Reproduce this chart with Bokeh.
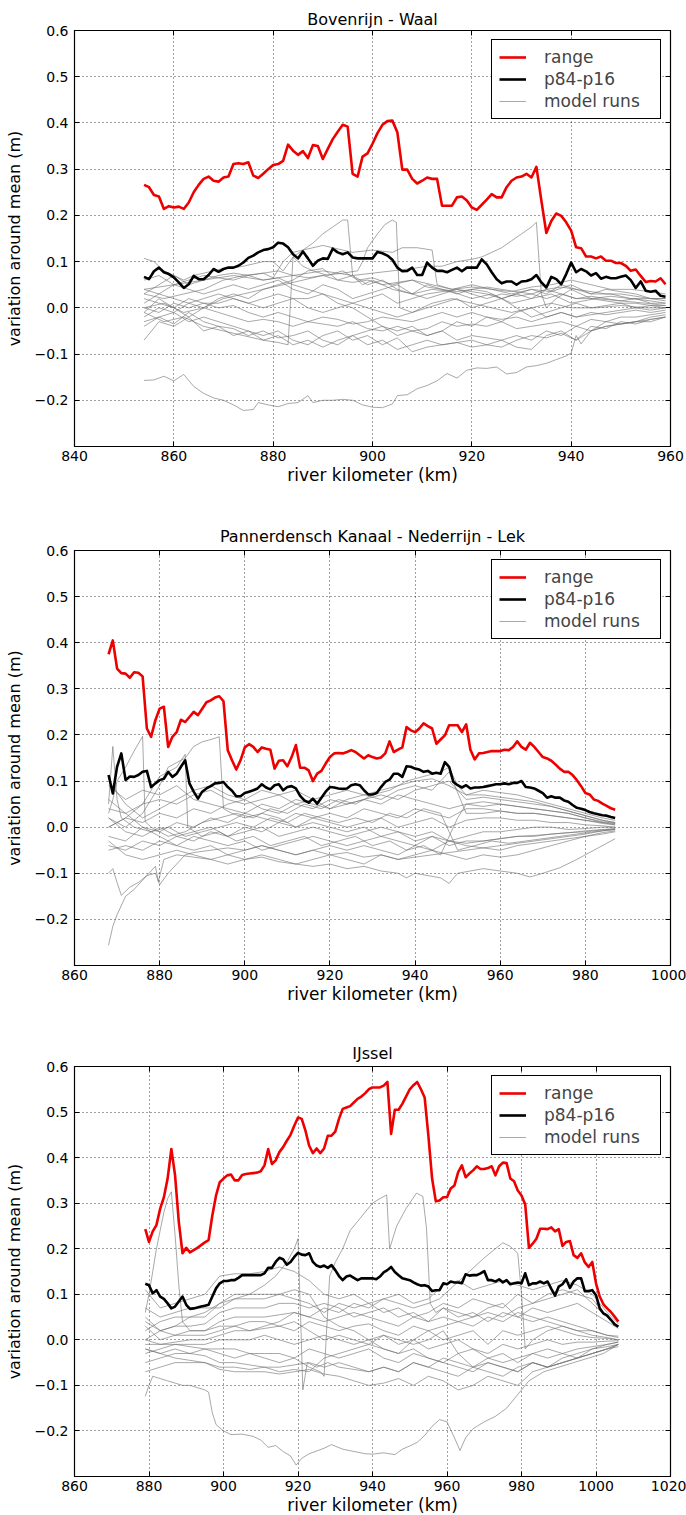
from bokeh.plotting import figure
from bokeh.layouts import column
from bokeh.models import (Range1d, FixedTicker, CustomJSTickFormatter, LinearAxis,
                          Legend, LegendItem)
from bokeh.embed import file_html
from bokeh.resources import INLINE

FONT = "DejaVu Sans"
Y_TICKS = [-0.2, -0.1, 0.0, 0.1, 0.2, 0.3, 0.4, 0.5, 0.6]

# ------------------------------------------------------------------ Bovenrijn - Waal
wa_title = "Bovenrijn - Waal"
wa_x_ticks = [840, 860, 880, 900, 920, 940, 960]
wa_km = list(range(854, 960))
wa_range = [0.266, 0.261, 0.244, 0.241, 0.214, 0.220, 0.217, 0.219, 0.214, 0.228,
            0.250, 0.266, 0.279, 0.284, 0.275, 0.273, 0.282, 0.284, 0.311, 0.313,
            0.311, 0.315, 0.286, 0.281, 0.290, 0.300, 0.309, 0.311, 0.318, 0.353,
            0.340, 0.331, 0.339, 0.324, 0.352, 0.350, 0.322, 0.344, 0.365, 0.381,
            0.396, 0.392, 0.290, 0.284, 0.327, 0.334, 0.355, 0.378, 0.396, 0.404,
            0.405, 0.380, 0.299, 0.299, 0.279, 0.269, 0.275, 0.282, 0.279, 0.279,
            0.221, 0.221, 0.221, 0.239, 0.241, 0.232, 0.217, 0.212, 0.223, 0.234,
            0.246, 0.239, 0.239, 0.261, 0.275, 0.282, 0.284, 0.290, 0.282, 0.305,
            0.232, 0.162, 0.188, 0.204, 0.199, 0.185, 0.167, 0.131, 0.129, 0.111,
            0.111, 0.107, 0.111, 0.102, 0.102, 0.097, 0.097, 0.091, 0.080, 0.083,
            0.069, 0.056, 0.058, 0.057, 0.064, 0.051]
wa_p84_p16 = [0.067, 0.062, 0.079, 0.087, 0.077, 0.073, 0.066, 0.055, 0.043, 0.051,
              0.069, 0.062, 0.062, 0.071, 0.084, 0.078, 0.084, 0.087, 0.087, 0.091,
              0.098, 0.108, 0.113, 0.120, 0.125, 0.127, 0.131, 0.141, 0.139, 0.131,
              0.116, 0.107, 0.122, 0.107, 0.091, 0.102, 0.107, 0.106, 0.128, 0.120,
              0.116, 0.120, 0.109, 0.107, 0.107, 0.107, 0.107, 0.121, 0.118, 0.113,
              0.104, 0.087, 0.079, 0.080, 0.087, 0.071, 0.071, 0.098, 0.087, 0.080,
              0.080, 0.077, 0.082, 0.087, 0.079, 0.087, 0.087, 0.087, 0.105, 0.094,
              0.077, 0.062, 0.053, 0.057, 0.057, 0.050, 0.057, 0.058, 0.062, 0.071,
              0.055, 0.044, 0.067, 0.062, 0.051, 0.073, 0.098, 0.077, 0.084, 0.079,
              0.070, 0.075, 0.063, 0.067, 0.064, 0.064, 0.067, 0.070, 0.060, 0.043,
              0.057, 0.037, 0.035, 0.037, 0.026, 0.024]
wa_grid = list(range(854, 960, 3))
wa_runs = [
    [-0.07, -0.03, -0.04, -0.02, -0.05, -0.04, -0.06, -0.05, -0.07, -0.06, -0.08, -0.07, -0.085, -0.07, -0.06, -0.08, -0.07, -0.09, -0.08, -0.07, -0.08, -0.075, -0.085, -0.08, -0.07, -0.085, -0.09, -0.06, -0.05, -0.07, -0.04, -0.045, -0.03, -0.035, -0.025, -0.02],
    [-0.03, -0.02, -0.035, -0.01, -0.03, -0.04, -0.045, -0.06, -0.05, -0.065, -0.06, -0.05, -0.07, -0.08, -0.06, -0.05, -0.04, -0.06, -0.05, -0.06, -0.05, -0.07, -0.06, -0.065, -0.07, -0.06, -0.07, -0.05, -0.06, -0.04, -0.05, -0.03, -0.035, -0.03, -0.02, -0.015],
    [-0.02, 0.0, -0.01, 0.01, 0.0, -0.01, -0.02, -0.03, -0.025, -0.03, -0.04, -0.03, -0.035, -0.04, -0.03, -0.045, -0.05, -0.04, -0.05, -0.045, -0.03, -0.04, -0.035, -0.04, -0.03, -0.045, -0.04, -0.035, -0.03, -0.04, -0.025, -0.03, -0.02, -0.02, -0.015, -0.01],
    [0.02, 0.01, 0.0, 0.02, 0.01, 0.0, 0.005, -0.01, -0.02, -0.01, -0.02, -0.03, -0.02, -0.025, -0.035, -0.03, -0.02, -0.025, -0.03, -0.02, -0.01, -0.02, -0.01, -0.02, -0.025, -0.02, -0.03, -0.02, -0.01, -0.02, -0.015, -0.01, -0.005, 0.0, -0.005, 0.0],
    [0.04, 0.03, 0.02, 0.01, 0.02, 0.03, 0.02, 0.01, 0.0, 0.01, 0.02, 0.0, -0.01, 0.0, 0.01, 0.0, -0.01, -0.02, -0.01, 0.0, 0.01, 0.02, 0.0, 0.01, 0.02, 0.0, -0.02, -0.01, 0.0, 0.01, 0.0, 0.005, 0.01, 0.0, 0.005, 0.005],
    [0.01, 0.03, 0.05, 0.04, 0.03, 0.04, 0.05, 0.04, 0.05, 0.06, 0.04, 0.03, 0.05, 0.04, 0.02, 0.03, 0.04, 0.05, 0.03, 0.02, 0.03, 0.04, 0.03, 0.02, 0.03, 0.025, 0.03, 0.02, 0.03, 0.02, 0.025, 0.02, 0.015, 0.02, 0.01, 0.01],
    [0.06, 0.07, 0.05, 0.06, 0.07, 0.065, 0.06, 0.07, 0.075, 0.08, 0.07, 0.065, 0.07, 0.06, 0.055, 0.06, 0.05, 0.055, 0.06, 0.045, 0.04, 0.035, 0.04, 0.045, 0.04, 0.035, 0.03, 0.04, 0.045, 0.04, 0.035, 0.03, 0.03, 0.025, 0.02, 0.02],
    [-0.01, 0.02, 0.0, -0.02, 0.0, 0.02, 0.03, 0.02, 0.04, 0.05, 0.06, 0.08, 0.085, 0.06, 0.07, 0.05, 0.06, 0.04, 0.03, 0.05, 0.04, 0.03, 0.04, 0.035, 0.02, 0.03, 0.04, 0.03, 0.05, 0.04, 0.03, 0.04, 0.035, 0.03, 0.02, 0.02],
    [0.0, -0.01, 0.01, 0.0, 0.01, 0.01, 0.02, 0.01, 0.02, 0.03, 0.02, 0.02, 0.03, 0.01, 0.0, -0.02, -0.04, -0.05, -0.04, -0.06, -0.05, -0.03, -0.04, -0.02, -0.03, -0.01, 0.0, -0.02, -0.01, -0.02, -0.01, -0.015, -0.01, -0.005, -0.01, -0.005],
    [-0.04, -0.02, -0.01, -0.03, -0.02, -0.03, -0.04, -0.05, -0.06, -0.05, -0.07, -0.08, -0.06, -0.05, -0.07, -0.06, -0.08, -0.065, -0.095, -0.085, -0.08, -0.075, -0.07, -0.08, -0.085, -0.07, -0.06, -0.065, -0.055, -0.07, -0.05, -0.04, -0.035, -0.03, -0.03, -0.02],
    [0.03, 0.05, 0.07, 0.05, 0.06, 0.07, 0.075, 0.07, 0.06, 0.065, 0.05, 0.04, 0.03, 0.02, 0.01, 0.02, 0.03, 0.01, 0.02, 0.03, 0.035, 0.04, 0.035, 0.03, 0.02, 0.03, 0.02, 0.04, 0.03, 0.02, 0.02, 0.015, 0.01, 0.01, 0.005, 0.0],
]
wa_run_low = [(854, -0.157), (856, -0.156), (858, -0.148), (860, -0.158), (862, -0.144), (864, -0.170),
              (866, -0.185), (868, -0.195), (870, -0.200), (872, -0.210), (874, -0.222), (876, -0.220),
              (877, -0.205), (879, -0.210), (881, -0.214), (883, -0.207), (885, -0.205), (887, -0.190),
              (888, -0.205), (890, -0.200), (892, -0.200), (894, -0.198), (896, -0.200), (898, -0.210),
              (900, -0.215), (902, -0.216), (904, -0.208), (905, -0.190), (907, -0.188), (909, -0.175),
              (911, -0.168), (913, -0.158), (915, -0.142), (917, -0.152), (919, -0.135), (921, -0.130),
              (923, -0.131), (925, -0.128), (927, -0.143), (929, -0.140), (931, -0.128), (933, -0.125),
              (935, -0.120), (937, -0.112), (939, -0.104), (940, -0.098), (941, -0.060), (942, -0.078),
              (944, -0.050), (947, -0.040), (950, -0.035), (953, -0.030), (956, -0.025), (959, -0.020)]
wa_run_peak895 = [(854, 0.03), (858, 0.02), (862, 0.03), (866, 0.04), (870, 0.06), (874, 0.07), (878, 0.075),
                  (880, 0.065), (882, 0.10), (884, 0.12), (886, 0.125), (888, 0.14), (890, 0.16), (892, 0.175),
                  (894, 0.19), (895, 0.19), (896, 0.07), (898, 0.05), (900, 0.06), (904, 0.04), (908, 0.03),
                  (912, 0.04), (916, 0.035), (920, 0.02), (924, 0.03), (928, 0.01), (932, 0.02), (936, 0.03),
                  (940, 0.01), (945, 0.02), (950, 0.015), (955, 0.01), (959, 0.005)]
wa_run_peak904 = [(854, 0.0), (858, 0.01), (862, -0.01), (866, 0.0), (870, 0.02), (874, 0.03), (878, 0.04),
                  (882, 0.05), (886, 0.06), (890, 0.07), (894, 0.075), (897, 0.08), (898, 0.10), (899, 0.13),
                  (901, 0.16), (902.5, 0.18), (904, 0.19), (904.8, 0.185), (905.5, 0.0), (908, -0.01),
                  (912, 0.01), (916, 0.02), (920, 0.01), (924, 0.0), (928, -0.01), (932, 0.0), (936, 0.01),
                  (940, 0.0), (945, 0.0), (950, 0.005), (955, 0.0), (959, 0.0)]
wa_run_peak933 = [(854, 0.04), (860, 0.05), (866, 0.06), (872, 0.07), (878, 0.06), (884, 0.07), (890, 0.08),
                  (896, 0.07), (900, 0.075), (904, 0.08), (908, 0.085), (911, 0.09), (914, 0.09), (917, 0.10),
                  (920, 0.105), (922, 0.11), (924, 0.12), (926, 0.13), (928, 0.145), (930, 0.16), (932, 0.175),
                  (933, 0.185), (934, 0.03), (935, 0.0), (937, 0.02), (940, 0.04), (944, 0.02), (948, 0.025),
                  (952, 0.02), (956, 0.015), (959, 0.01)]
wa_run_high = [(854, 0.107), (856, 0.10), (858, 0.08), (860, 0.07), (862, 0.06), (864, 0.07), (866, 0.075),
               (868, 0.08), (870, 0.085), (874, 0.09), (878, 0.10), (880, 0.10), (882, 0.08), (884, 0.11),
               (886, 0.125), (888, 0.13), (890, 0.135), (892, 0.13), (896, 0.12), (900, 0.125), (904, 0.12),
               (906, 0.13), (909, 0.13), (912, 0.125), (913, 0.05), (916, 0.04), (920, 0.045), (924, 0.04),
               (928, 0.035), (932, 0.045), (936, 0.05), (940, 0.06), (944, 0.05), (948, 0.04), (952, 0.04),
               (956, 0.035), (959, 0.03)]
wa_run_jump884 = [(854, -0.01), (858, -0.03), (862, -0.02), (866, -0.04), (870, -0.05), (874, -0.06),
                  (878, -0.07), (881, -0.075), (883, -0.08), (884, 0.11), (886, 0.09), (888, 0.08), (891, 0.07),
                  (894, 0.08), (897, 0.06), (900, 0.065), (904, 0.05), (908, 0.06), (912, 0.05), (916, 0.04),
                  (920, 0.05), (924, 0.04), (928, 0.03), (932, 0.04), (936, 0.035), (940, 0.05), (944, 0.03),
                  (948, 0.03), (952, 0.02), (956, 0.02), (959, 0.015)]

# ------------------------------------------------------------------ Pannerdensch Kanaal - Nederrijn - Lek
nl_title = "Pannerdensch Kanaal - Nederrijn - Lek"
nl_x_ticks = [860, 880, 900, 920, 940, 960, 980, 1000]
nl_km = list(range(868, 988))
nl_range = [0.375, 0.405, 0.344, 0.334, 0.333, 0.324, 0.336, 0.335, 0.327, 0.214,
            0.196, 0.232, 0.257, 0.261, 0.174, 0.196, 0.206, 0.233, 0.228, 0.239,
            0.250, 0.243, 0.257, 0.271, 0.275, 0.281, 0.284, 0.273, 0.167, 0.145,
            0.125, 0.145, 0.173, 0.180, 0.174, 0.163, 0.173, 0.170, 0.168, 0.127,
            0.144, 0.145, 0.132, 0.152, 0.178, 0.129, 0.129, 0.123, 0.100, 0.116,
            0.122, 0.138, 0.152, 0.160, 0.161, 0.160, 0.163, 0.167, 0.163, 0.156,
            0.149, 0.156, 0.152, 0.149, 0.151, 0.160, 0.186, 0.163, 0.168, 0.173,
            0.217, 0.210, 0.206, 0.214, 0.225, 0.219, 0.214, 0.181, 0.190, 0.199,
            0.221, 0.221, 0.221, 0.206, 0.223, 0.168, 0.147, 0.160, 0.161, 0.163,
            0.165, 0.165, 0.165, 0.168, 0.167, 0.174, 0.186, 0.174, 0.168, 0.183,
            0.174, 0.163, 0.152, 0.149, 0.144, 0.136, 0.127, 0.120, 0.120, 0.113,
            0.102, 0.089, 0.074, 0.071, 0.060, 0.057, 0.051, 0.046, 0.041, 0.038]
nl_p84_p16 = [0.113, 0.073, 0.131, 0.160, 0.102, 0.110, 0.109, 0.113, 0.120, 0.122,
              0.087, 0.095, 0.102, 0.105, 0.120, 0.109, 0.116, 0.131, 0.145, 0.095,
              0.077, 0.062, 0.077, 0.084, 0.089, 0.095, 0.096, 0.098, 0.087, 0.079,
              0.067, 0.067, 0.074, 0.077, 0.080, 0.084, 0.093, 0.086, 0.082, 0.091,
              0.093, 0.080, 0.087, 0.089, 0.084, 0.068, 0.058, 0.053, 0.062, 0.051,
              0.064, 0.077, 0.087, 0.086, 0.084, 0.083, 0.084, 0.091, 0.093, 0.091,
              0.080, 0.071, 0.071, 0.074, 0.087, 0.098, 0.103, 0.116, 0.116, 0.109,
              0.132, 0.131, 0.127, 0.125, 0.120, 0.122, 0.116, 0.118, 0.116, 0.141,
              0.131, 0.098, 0.091, 0.086, 0.091, 0.084, 0.086, 0.086, 0.087, 0.089,
              0.091, 0.093, 0.093, 0.095, 0.093, 0.096, 0.096, 0.100, 0.087, 0.086,
              0.084, 0.079, 0.074, 0.064, 0.067, 0.064, 0.064, 0.058, 0.055, 0.048,
              0.042, 0.040, 0.037, 0.033, 0.030, 0.028, 0.026, 0.025, 0.022, 0.020]
nl_grid = list(range(868, 988, 4)) + [987]
nl_runs = [
    [0.09, 0.06, 0.08, 0.07, 0.09, 0.06, 0.05, 0.04, 0.03, 0.05, 0.04, 0.06, 0.05, 0.04, 0.06, 0.07, 0.08, 0.09, 0.1, 0.105, 0.09, 0.07, 0.08, 0.075, 0.07, 0.06, 0.05, 0.04, 0.03, 0.02, 0.015],
    [0.04, 0.03, 0.05, 0.06, 0.05, 0.07, 0.08, 0.06, 0.05, 0.06, 0.07, 0.05, 0.04, 0.06, 0.05, 0.06, 0.07, 0.06, 0.08, 0.09, 0.1, 0.06, 0.065, 0.06, 0.055, 0.05, 0.045, 0.035, 0.025, 0.015, 0.01],
    [0.0, 0.02, 0.01, 0.03, 0.02, 0.04, 0.03, 0.05, 0.06, 0.04, 0.03, 0.05, 0.06, 0.04, 0.05, 0.06, 0.05, 0.07, 0.06, 0.05, 0.04, 0.05, 0.055, 0.05, 0.045, 0.04, 0.035, 0.03, 0.02, 0.01, 0.008],
    [-0.02, -0.03, 0.0, -0.01, 0.01, 0.0, 0.02, 0.01, 0.03, 0.02, 0.01, 0.03, 0.02, 0.03, 0.02, 0.04, 0.03, 0.02, 0.04, 0.03, 0.02, 0.04, 0.04, 0.035, 0.03, 0.03, 0.025, 0.02, 0.015, 0.008, 0.005],
    [-0.04, -0.05, -0.03, -0.04, -0.02, -0.03, -0.01, -0.02, 0.0, -0.01, 0.01, 0.0, 0.02, 0.01, 0.0, 0.01, 0.02, 0.0, 0.01, 0.02, 0.0, 0.015, 0.02, 0.02, 0.015, 0.015, 0.01, 0.01, 0.005, 0.003, 0.0],
    [0.02, -0.01, -0.02, 0.0, -0.02, -0.01, 0.0, -0.02, -0.01, 0.0, -0.02, -0.01, 0.0, -0.01, -0.02, -0.01, 0.0, -0.01, -0.02, -0.01, -0.03, -0.02, -0.01, -0.01, -0.005, 0.0, 0.0, -0.005, -0.003, 0.0, 0.0],
    [-0.05, -0.04, -0.05, -0.03, -0.04, -0.02, -0.03, -0.04, -0.03, -0.05, -0.04, -0.03, -0.02, -0.03, -0.04, -0.03, -0.02, -0.03, -0.04, -0.02, -0.03, -0.035, -0.03, -0.025, -0.02, -0.018, -0.015, -0.012, -0.008, -0.005, -0.003],
    [0.06, 0.03, 0.0, -0.02, -0.04, -0.05, -0.04, -0.06, -0.05, -0.04, -0.05, -0.06, -0.05, -0.04, -0.05, -0.04, -0.05, -0.06, -0.04, -0.05, -0.03, -0.04, -0.045, -0.04, -0.035, -0.03, -0.025, -0.02, -0.015, -0.008, -0.005],
    [0.1, 0.05, 0.02, 0.04, 0.06, 0.08, 0.09, 0.07, 0.06, 0.08, 0.07, 0.08, 0.06, 0.07, 0.08, 0.07, 0.06, 0.08, 0.09, 0.08, 0.12, 0.03, 0.03, 0.035, 0.03, 0.03, 0.025, 0.02, 0.015, 0.01, 0.005],
    [-0.03, -0.06, -0.07, -0.06, -0.05, -0.06, -0.07, -0.08, -0.07, -0.06, -0.07, -0.08, -0.07, -0.06, -0.07, -0.08, -0.06, -0.07, -0.06, -0.05, -0.06, -0.07, -0.06, -0.065, -0.06, -0.05, -0.04, -0.03, -0.02, -0.012, -0.008],
]
nl_run_low = [(868, -0.256), (869, -0.215), (870, -0.19), (872, -0.15), (874, -0.135), (876, -0.115),
              (878, -0.095), (879, -0.085), (879.7, -0.118), (881, -0.07), (884, -0.06), (888, -0.065),
              (892, -0.07), (896, -0.06), (900, -0.07), (904, -0.065), (908, -0.075), (912, -0.08),
              (916, -0.085), (920, -0.08), (924, -0.09), (928, -0.085), (932, -0.095), (936, -0.10),
              (938, -0.11), (940, -0.10), (943, -0.105), (946, -0.11), (948, -0.122), (950, -0.10),
              (953, -0.095), (956, -0.09), (960, -0.095), (964, -0.10), (967, -0.108), (970, -0.10),
              (974, -0.088), (978, -0.07), (982, -0.05), (985, -0.035), (987, -0.025)]
nl_run_dip871 = [(868, -0.10), (869, -0.09), (870, -0.12), (871, -0.148), (873, -0.13), (875, -0.12),
                 (877, -0.105), (879, -0.10), (880, -0.125), (882, -0.10), (884, -0.08), (886, -0.06),
                 (888, -0.055), (892, -0.05), (896, -0.045), (900, -0.05), (904, -0.04), (908, -0.05),
                 (912, -0.06), (916, -0.05), (920, -0.06), (924, -0.055), (928, -0.065), (932, -0.06),
                 (936, -0.07), (940, -0.065), (944, -0.06), (948, -0.055), (952, -0.05), (956, -0.045),
                 (960, -0.05), (964, -0.04), (968, -0.035), (972, -0.03), (976, -0.025), (980, -0.02),
                 (984, -0.015), (987, -0.01)]
nl_run_peak869 = [(868, 0.05), (869, 0.175), (870, 0.06), (871, 0.02), (874, 0.0), (878, -0.01), (882, 0.0),
                  (886, -0.02), (890, -0.01), (894, 0.0), (898, 0.01), (902, 0.0), (906, 0.02), (910, 0.01),
                  (914, 0.03), (918, 0.02), (922, 0.01), (926, 0.02), (930, 0.01), (934, 0.03), (938, 0.02),
                  (942, 0.04), (946, 0.03), (950, -0.05), (954, -0.04), (958, -0.03), (962, -0.035),
                  (966, -0.03), (970, -0.025), (974, -0.02), (978, -0.015), (982, -0.01), (987, -0.005)]
nl_run_peak876 = [(868, 0.03), (869, 0.06), (870, 0.10), (872, 0.13), (874, 0.165), (876, 0.197),
                  (876.6, 0.012), (878, 0.0), (882, -0.02), (886, -0.01), (890, 0.01), (894, 0.02), (898, 0.03),
                  (902, 0.02), (906, 0.04), (910, 0.03), (914, 0.05), (918, 0.04), (922, 0.06), (926, 0.05),
                  (930, 0.07), (934, 0.08), (938, 0.10), (942, 0.11), (946, 0.12), (948, 0.13), (950, 0.09),
                  (952, 0.07), (956, 0.07), (960, 0.065), (964, 0.06), (968, 0.055), (972, 0.045),
                  (976, 0.035), (980, 0.025), (984, 0.015), (987, 0.01)]
nl_run_peak894 = [(868, 0.02), (872, 0.0), (876, 0.03), (880, 0.09), (882, 0.13), (884, 0.14), (886, 0.15),
                  (888, 0.175), (890, 0.185), (892, 0.19), (894, 0.196), (895, 0.04), (897, 0.03), (900, 0.02),
                  (904, 0.03), (908, 0.02), (912, 0.0), (916, 0.01), (920, 0.0), (924, -0.01), (928, 0.0),
                  (932, -0.02), (936, -0.01), (940, -0.03), (944, -0.02), (948, -0.04), (952, -0.03),
                  (956, -0.03), (960, -0.025), (964, -0.02), (968, -0.02), (972, -0.015), (976, -0.012),
                  (980, -0.01), (984, -0.006), (987, -0.004)]
nl_run_peak886 = [(868, 0.0), (872, 0.02), (876, 0.05), (878, 0.08), (880, 0.11), (882, 0.12), (884, 0.13),
                  (886, 0.158), (886.6, 0.0), (890, -0.02), (894, -0.01), (898, -0.03), (902, -0.02),
                  (906, -0.04), (910, -0.03), (914, -0.02), (918, -0.04), (922, -0.03), (926, -0.02),
                  (930, -0.04), (934, -0.03), (938, -0.05), (942, -0.04), (946, -0.06), (950, 0.02),
                  (952, 0.05), (956, 0.045), (960, 0.05), (964, 0.045), (968, 0.04), (972, 0.035), (976, 0.03),
                  (980, 0.02), (984, 0.012), (987, 0.008)]

# ------------------------------------------------------------------ IJssel
ij_title = "IJssel"
ij_x_ticks = [860, 880, 900, 920, 940, 960, 980, 1000, 1020]
ij_km = list(range(879, 1007))
ij_range = [0.243, 0.215, 0.238, 0.252, 0.288, 0.313, 0.354, 0.419, 0.361, 0.259,
            0.190, 0.202, 0.192, 0.197, 0.202, 0.208, 0.214, 0.219, 0.273, 0.317,
            0.346, 0.354, 0.361, 0.363, 0.350, 0.350, 0.362, 0.364, 0.365, 0.366,
            0.367, 0.370, 0.383, 0.419, 0.386, 0.394, 0.412, 0.423, 0.437, 0.450,
            0.470, 0.488, 0.485, 0.459, 0.426, 0.410, 0.420, 0.410, 0.420, 0.448,
            0.448, 0.457, 0.485, 0.507, 0.510, 0.513, 0.521, 0.529, 0.534, 0.541,
            0.550, 0.554, 0.554, 0.554, 0.558, 0.566, 0.452, 0.505, 0.505, 0.518,
            0.534, 0.550, 0.559, 0.566, 0.550, 0.532, 0.448, 0.354, 0.304, 0.306,
            0.313, 0.313, 0.332, 0.339, 0.368, 0.383, 0.357, 0.365, 0.372, 0.381,
            0.375, 0.375, 0.377, 0.381, 0.361, 0.381, 0.389, 0.388, 0.354, 0.348,
            0.328, 0.317, 0.297, 0.202, 0.211, 0.222, 0.244, 0.244, 0.243, 0.247,
            0.238, 0.243, 0.206, 0.215, 0.217, 0.186, 0.180, 0.190, 0.170, 0.160,
            0.171, 0.124, 0.095, 0.078, 0.069, 0.061, 0.051, 0.040]
ij_p84_p16 = [0.123, 0.120, 0.102, 0.109, 0.095, 0.090, 0.080, 0.069, 0.073, 0.084,
              0.095, 0.077, 0.068, 0.069, 0.071, 0.073, 0.075, 0.077, 0.095, 0.113,
              0.124, 0.129, 0.129, 0.131, 0.131, 0.136, 0.142, 0.142, 0.142, 0.142,
              0.142, 0.142, 0.146, 0.158, 0.158, 0.171, 0.180, 0.177, 0.165, 0.171,
              0.182, 0.191, 0.187, 0.186, 0.190, 0.171, 0.163, 0.160, 0.163, 0.158,
              0.164, 0.153, 0.140, 0.131, 0.139, 0.141, 0.136, 0.131, 0.135, 0.135,
              0.135, 0.135, 0.133, 0.139, 0.148, 0.153, 0.160, 0.149, 0.142, 0.135,
              0.133, 0.131, 0.126, 0.122, 0.119, 0.120, 0.117, 0.107, 0.109, 0.109,
              0.124, 0.122, 0.128, 0.126, 0.126, 0.124, 0.144, 0.141, 0.142, 0.142,
              0.146, 0.151, 0.131, 0.131, 0.128, 0.133, 0.126, 0.131, 0.122, 0.124,
              0.126, 0.124, 0.146, 0.120, 0.124, 0.124, 0.128, 0.124, 0.128, 0.112,
              0.097, 0.117, 0.122, 0.133, 0.114, 0.128, 0.135, 0.135, 0.107, 0.107,
              0.109, 0.098, 0.069, 0.058, 0.053, 0.044, 0.034, 0.029]
ij_grid = list(range(879, 1007, 4)) + [1006]
ij_runs = [
    [0.11, 0.07, 0.08, 0.09, 0.1, 0.14, 0.145, 0.145, 0.15, 0.16, 0.15, 0.13, 0.1, 0.09, 0.1, 0.08, 0.09, 0.1, 0.08, 0.09, 0.12, 0.13, 0.11, 0.12, 0.13, 0.12, 0.11, 0.12, 0.13, 0.12, 0.1, 0.06, 0.035],
    [0.07, 0.05, 0.06, 0.07, 0.07, 0.07, 0.09, 0.09, 0.09, 0.1, 0.09, 0.08, 0.06, 0.08, 0.07, 0.08, 0.06, 0.07, 0.05, 0.06, 0.08, 0.07, 0.09, 0.08, 0.07, 0.1, 0.08, 0.09, 0.1, 0.11, 0.08, 0.05, 0.03],
    [0.05, 0.02, 0.03, 0.03, 0.035, 0.06, 0.07, 0.07, 0.07, 0.08, 0.08, 0.07, 0.08, 0.07, 0.05, 0.06, 0.07, 0.05, 0.06, 0.04, 0.07, 0.06, 0.05, 0.07, 0.08, 0.05, 0.07, 0.06, 0.07, 0.08, 0.06, 0.04, 0.025],
    [0.03, 0.0, 0.01, 0.02, 0.02, 0.04, 0.05, 0.05, 0.05, 0.055, 0.06, 0.05, 0.04, 0.05, 0.06, 0.05, 0.04, 0.03, 0.05, 0.04, 0.05, 0.04, 0.03, 0.05, 0.04, 0.06, 0.05, 0.04, 0.03, 0.02, 0.02, 0.01, 0.008],
    [0.0, -0.01, -0.005, 0.0, 0.0, 0.01, 0.02, 0.02, 0.025, 0.03, 0.02, 0.04, 0.03, 0.02, 0.03, 0.035, 0.02, 0.01, 0.03, 0.02, 0.0, 0.01, 0.02, -0.01, 0.02, 0.01, 0.02, 0.03, 0.02, 0.01, 0.005, 0.003, 0.0],
    [-0.01, -0.01, -0.01, -0.01, -0.01, 0.0, 0.0, 0.0, 0.01, 0.0, -0.01, 0.0, 0.01, 0.0, -0.01, 0.0, 0.01, -0.01, 0.0, -0.02, -0.01, 0.0, -0.02, -0.03, -0.01, -0.02, -0.01, 0.0, -0.01, -0.005, -0.005, -0.003, -0.002],
    [-0.03, -0.02, -0.01, -0.015, -0.02, -0.02, -0.02, -0.03, -0.03, -0.03, -0.04, -0.02, -0.03, -0.04, -0.03, -0.02, -0.04, -0.05, -0.03, -0.04, -0.05, -0.03, -0.06, -0.04, -0.05, -0.04, -0.03, -0.02, -0.03, -0.02, -0.015, -0.01, -0.005],
    [-0.05, -0.04, -0.03, -0.03, -0.035, -0.05, -0.05, -0.055, -0.06, -0.06, -0.055, -0.05, -0.06, -0.05, -0.06, -0.07, -0.06, -0.07, -0.05, -0.06, -0.07, -0.08, -0.06, -0.07, -0.08, -0.06, -0.05, -0.06, -0.05, -0.04, -0.03, -0.02, -0.01],
    [-0.07, -0.06, -0.05, -0.05, -0.05, -0.065, -0.07, -0.07, -0.07, -0.075, -0.07, -0.065, -0.075, -0.08, -0.09, -0.1, -0.095, -0.085, -0.1, -0.08, -0.09, -0.11, -0.1, -0.08, -0.09, -0.1, -0.07, -0.06, -0.05, -0.04, -0.03, -0.02, -0.015],
    [0.02, 0.04, 0.05, 0.05, 0.05, 0.08, 0.1, 0.1, 0.1, 0.1, 0.11, 0.1, 0.05, 0.03, 0.02, 0.0, -0.02, -0.03, -0.02, -0.04, -0.05, -0.06, -0.07, -0.05, -0.06, -0.07, -0.05, -0.06, -0.04, -0.03, -0.02, -0.015, -0.01],
    [-0.02, -0.03, -0.04, -0.045, -0.05, -0.06, -0.06, -0.065, -0.06, -0.07, -0.065, -0.07, -0.04, -0.03, -0.02, -0.01, -0.02, -0.03, 0.0, 0.02, 0.03, 0.04, 0.05, 0.06, 0.05, 0.07, 0.08, 0.1, 0.11, 0.1, 0.09, 0.05, 0.03],
]
ij_run_low = [(879, -0.124), (880, -0.10), (881, -0.08), (883, -0.085), (885, -0.09), (887, -0.095),
              (889, -0.10), (891, -0.10), (893, -0.105), (895, -0.11), (896, -0.115), (897, -0.16),
              (898, -0.186), (900, -0.20), (902, -0.208), (905, -0.207), (908, -0.212), (910, -0.22),
              (912, -0.236), (914, -0.232), (916, -0.245), (918, -0.255), (919.5, -0.275), (921, -0.26),
              (923, -0.25), (925, -0.244), (927, -0.238), (929, -0.23), (932, -0.24), (935, -0.245),
              (938, -0.25), (940, -0.251), (943, -0.248), (946, -0.252), (948, -0.24), (950, -0.233),
              (952, -0.225), (954, -0.21), (956, -0.19), (958, -0.175), (960, -0.18), (962, -0.215),
              (963.5, -0.243), (965, -0.215), (967, -0.195), (970, -0.18), (973, -0.168), (976, -0.15),
              (978, -0.13), (980, -0.11), (982, -0.09), (986, -0.07), (990, -0.06), (994, -0.05),
              (998, -0.04), (1002, -0.03), (1006, -0.01)]
ij_run_peak886 = [(879, 0.06), (880, 0.10), (881, 0.15), (882, 0.20), (883, 0.24), (884, 0.28), (885, 0.31),
                  (886, 0.325), (887, 0.23), (888, 0.12), (889, 0.04), (891, 0.02), (895, 0.02), (899, 0.03),
                  (903, 0.03), (907, 0.04), (911, 0.04), (915, 0.03), (919, 0.04), (923, 0.02), (927, 0.0),
                  (931, 0.01), (935, 0.0), (939, -0.01), (943, 0.01), (947, 0.0), (951, -0.01), (955, 0.0),
                  (959, 0.02), (963, -0.03), (967, -0.02), (971, -0.04), (975, -0.03), (979, -0.05),
                  (983, -0.03), (987, -0.04), (991, -0.03), (995, -0.04), (999, -0.02), (1003, -0.01),
                  (1006, -0.005)]
ij_run_peak920 = [(879, 0.04), (883, 0.02), (887, 0.03), (891, 0.05), (895, 0.06), (899, 0.08), (903, 0.09),
                  (907, 0.10), (911, 0.12), (914, 0.14), (917, 0.17), (919, 0.20), (920, 0.222), (920.7, 0.05),
                  (921.3, -0.11), (922.5, -0.05), (925, -0.06), (928, -0.05), (931, -0.06), (935, -0.065),
                  (939, -0.07), (943, -0.06), (947, -0.07), (951, -0.05), (955, -0.06), (959, -0.04),
                  (963, -0.05), (967, -0.06), (971, -0.05), (975, -0.06), (979, -0.07), (983, -0.05),
                  (987, -0.06), (991, -0.05), (995, -0.04), (999, -0.03), (1003, -0.02), (1006, -0.01)]
ij_run_peak944 = [(879, -0.02), (883, -0.03), (887, -0.02), (891, -0.03), (895, -0.02), (899, -0.03),
                  (903, -0.04), (907, -0.03), (911, -0.04), (915, -0.05), (919, -0.04), (923, -0.06),
                  (926, -0.07), (927, -0.08), (928.5, 0.14), (930, 0.17), (932, 0.20), (934, 0.24), (936, 0.26),
                  (938, 0.28), (940, 0.30), (942, 0.31), (943.8, 0.318), (944.6, 0.20), (946.5, 0.25),
                  (949, 0.288), (951.8, 0.322), (953.5, 0.315), (954.5, 0.245), (955.5, 0.08), (957, 0.06),
                  (959, 0.07), (963, 0.05), (967, 0.06), (971, 0.04), (975, 0.06), (979, 0.05), (983, 0.04),
                  (987, 0.05), (991, 0.04), (995, 0.03), (999, 0.02), (1003, 0.01), (1006, 0.005)]
ij_run_peak975 = [(879, 0.0), (883, 0.02), (887, 0.01), (891, 0.01), (895, 0.01), (899, 0.02), (903, 0.03),
                  (907, 0.02), (911, 0.03), (915, 0.04), (919, 0.06), (923, 0.05), (927, 0.07), (931, 0.06),
                  (935, 0.08), (939, 0.07), (943, 0.09), (947, 0.08), (951, 0.07), (955, 0.08), (958, 0.09),
                  (962, 0.12), (966, 0.15), (970, 0.18), (973, 0.20), (975, 0.213), (977, 0.205), (979, 0.19),
                  (980, 0.10), (981, -0.02), (983, 0.0), (987, 0.02), (991, 0.03), (995, 0.02), (999, 0.01),
                  (1003, 0.005), (1006, 0.0)]


def build(title, title_standoff, x_lo, x_hi, x_ticks, top, frame_h, bottom, km, rng, p8416, grid, runs,
          specials):
    p = figure(frame_width=596, frame_height=frame_h,
               min_border_left=74, min_border_right=16,
               min_border_top=top, min_border_bottom=bottom,
               x_range=Range1d(x_lo, x_hi), y_range=Range1d(-0.3, 0.6),
               output_backend="svg", toolbar_location=None, tools="",
               background_fill_color="white", border_fill_color="white")
    grey = dict(line_color="#6e6e6e", line_alpha=0.6, line_width=1, line_join="round")
    r_grey = None
    for vals in runs:
        r = p.line(grid, vals, **grey)
        if r_grey is None:
            r_grey = r
    for pts in specials:
        p.line([a for a, b in pts], [b for a, b in pts], **grey)
    r_blk = p.line(km, p8416, line_color="black", line_width=2.6, line_join="round")
    r_red = p.line(km, rng, line_color="#ee0000", line_width=2.6, line_join="round")

    xt = FixedTicker(ticks=x_ticks)
    yt = FixedTicker(ticks=Y_TICKS)
    p.xaxis.ticker = xt
    p.xgrid.ticker = xt
    p.yaxis.ticker = yt
    p.ygrid.ticker = yt
    p.yaxis.formatter = CustomJSTickFormatter(
        code="return (tick < -1e-9 ? '\u2212' : '') + Math.abs(tick).toFixed(1);")
    for ax in (p.xaxis[0], p.yaxis[0]):
        ax.major_tick_in = 5
        ax.major_tick_out = 0
        ax.minor_tick_in = 0
        ax.minor_tick_out = 0
        ax.axis_line_color = "black"
        ax.major_tick_line_color = "black"
        ax.major_label_text_font = FONT
        ax.major_label_text_font_size = "14px"
        ax.major_label_text_color = "black"
        ax.axis_label_text_font = FONT
        ax.axis_label_text_font_style = "normal"
        ax.axis_label_text_color = "black"
    p.xaxis.axis_label = "river kilometer (km)"
    p.xaxis.axis_label_text_font_size = "17px"
    p.xaxis.major_label_standoff = 4
    p.xaxis.axis_label_standoff = 1
    p.yaxis.axis_label = "variation around mean (m)"
    p.yaxis.axis_label_text_font_size = "16px"
    p.yaxis.major_label_standoff = 6
    p.yaxis.axis_label_standoff = 8

    for loc, tk in (("right", yt), ("above", xt)):
        ax = LinearAxis(ticker=tk, formatter=CustomJSTickFormatter(code="return '';"),
                        major_tick_in=5, major_tick_out=0, minor_tick_in=0, minor_tick_out=0,
                        axis_line_color="black", major_tick_line_color="black",
                        major_label_text_font_size="1px", major_label_standoff=0)
        p.add_layout(ax, loc)

    p.grid.grid_line_color = "black"
    p.grid.grid_line_alpha = 0.75
    p.grid.grid_line_dash = "1 3"
    p.grid.grid_line_width = 1
    p.outline_line_color = "black"
    p.outline_line_width = 1.2
    p.outline_line_alpha = 1

    p.title.text = title
    p.title.text_font = FONT
    p.title.text_font_size = "16px"
    p.title.text_font_style = "normal"
    p.title.text_color = "black"
    p.title.align = "center"
    p.title.standoff = title_standoff

    leg = Legend(items=[LegendItem(label="range", renderers=[r_red]),
                        LegendItem(label="p84-p16", renderers=[r_blk]),
                        LegendItem(label="model runs", renderers=[r_grey])],
                 location="top_right", margin=9, padding=7, spacing=2,
                 glyph_width=27, glyph_height=20, label_width=109, label_height=20,
                 label_standoff=18, label_text_font=FONT, label_text_font_size="17px",
                 border_line_color="black", border_line_width=1.5, border_line_alpha=1,
                 background_fill_color="white", background_fill_alpha=1)
    p.add_layout(leg)
    return p


p1 = build(wa_title, 4, 840, 960, wa_x_ticks, 30, 416, 59, wa_km, wa_range, wa_p84_p16, wa_grid, wa_runs,
           [wa_run_low, wa_run_peak895, wa_run_peak904, wa_run_peak933, wa_run_high, wa_run_jump884])
p2 = build(nl_title, 9, 860, 1000, nl_x_ticks, 45, 415, 55, nl_km, nl_range, nl_p84_p16, nl_grid, nl_runs,
           [nl_run_low, nl_run_dip871, nl_run_peak869, nl_run_peak876, nl_run_peak894, nl_run_peak886])
p3 = build(ij_title, 8, 860, 1020, ij_x_ticks, 46, 410, 39, ij_km, ij_range, ij_p84_p16, ij_grid, ij_runs,
           [ij_run_low, ij_run_peak886, ij_run_peak920, ij_run_peak944, ij_run_peak975])

layout = column(p1, p2, p3, spacing=0)
open("out.html", "w").write(file_html(layout, INLINE))
